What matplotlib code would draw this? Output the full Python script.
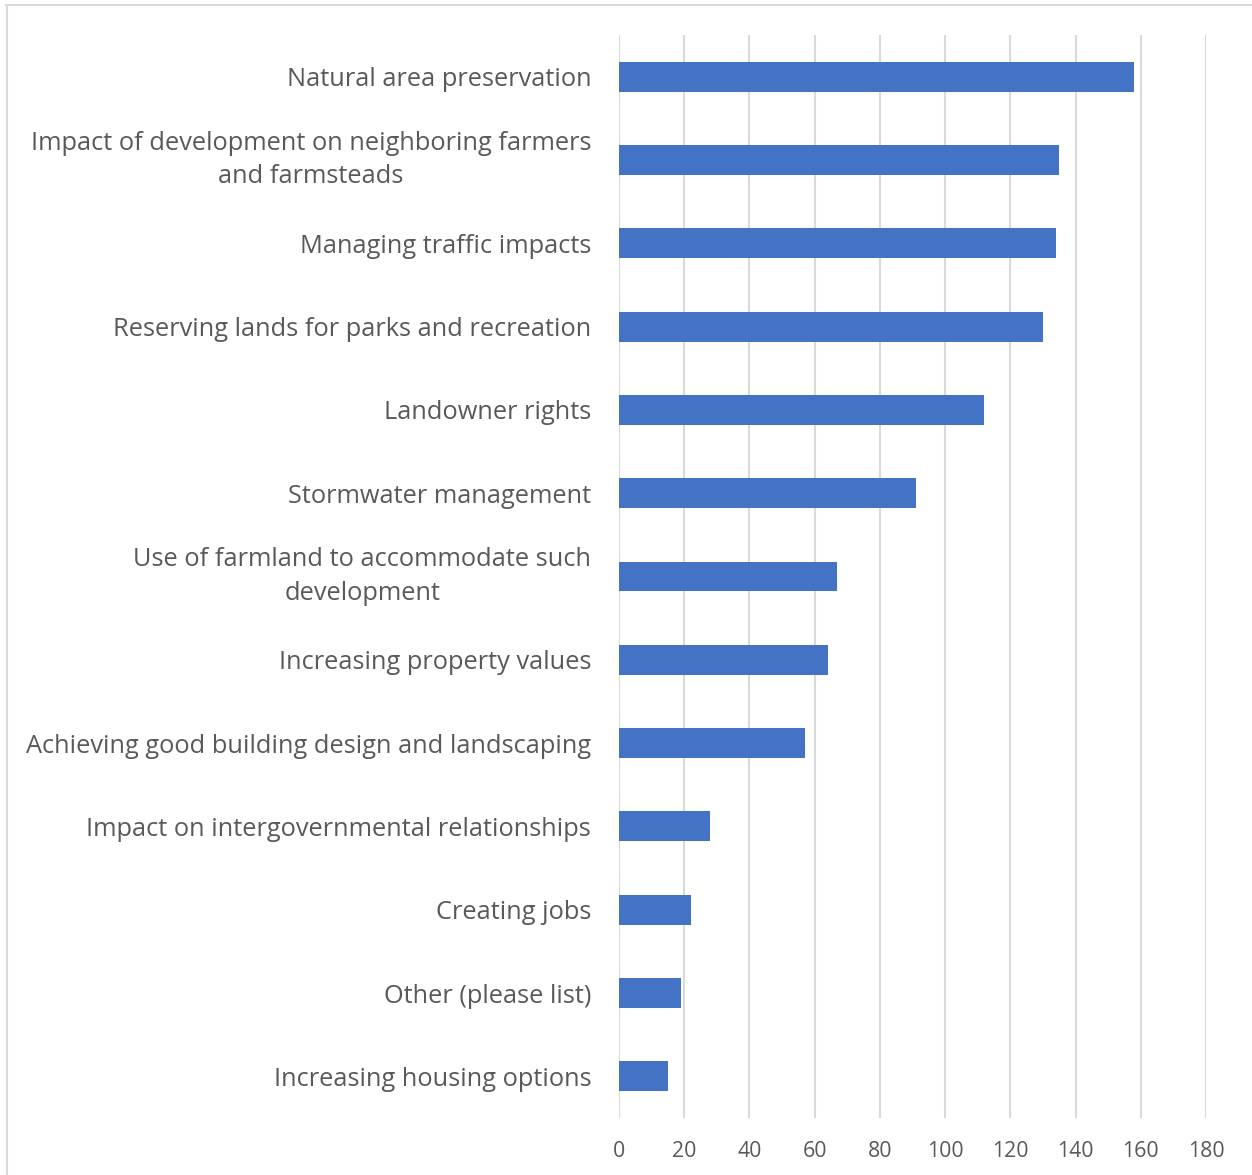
import matplotlib.pyplot as plt
from matplotlib.lines import Line2D

# categories top to bottom
categories = [
    "Natural area preservation",
    "Impact of development on neighboring farmers\nand farmsteads",
    "Managing traffic impacts",
    "Reserving lands for parks and recreation",
    "Landowner rights",
    "Stormwater management",
    "Use of farmland to accommodate such\ndevelopment",
    "Increasing property values",
    "Achieving good building design and landscaping",
    "Impact on intergovernmental relationships",
    "Creating jobs",
    "Other (please list)",
    "Increasing housing options",
]
counts = [158, 135, 134, 130, 112, 91, 67, 64, 57, 28, 22, 19, 15]
xticks = [0, 20, 40, 60, 80, 100, 120, 140, 160, 180]

text_col = "#595959"
grid_col = "#d9d9d9"
bar_col = "#4472C4"

plt.rcParams['font.family'] = ['Open Sans', 'DejaVu Sans']

fig = plt.figure(figsize=(12.52, 11.75), dpi=100)
ax = fig.add_axes([619/1252, 1 - 1118/1175, (1206-619)/1252, (1118-35)/1175])

ypos = list(range(len(categories)))
ax.barh(ypos, counts, height=0.36, color=bar_col, zorder=3)
ax.set_ylim(len(categories) - 0.5, -0.5)
ax.set_xlim(0, 180)

ax.set_yticks(ypos)
ax.set_yticklabels(categories, fontsize=18.3, color=text_col,
                   multialignment='center', linespacing=1.45)
# wrapped labels: center the whole block on the bar
for lab in ax.get_yticklabels():
    if "\n" in lab.get_text():
        lab.set_verticalalignment('center')
ax.set_xticks(xticks)
ax.set_xticklabels([str(t) for t in xticks], fontsize=15.3, color=text_col)
ax.tick_params(axis='both', length=0)
ax.tick_params(axis='y', pad=20)
ax.tick_params(axis='x', pad=16.5)

ax.grid(axis='x', color=grid_col, linewidth=1.5, zorder=0)
for s in ax.spines.values():
    s.set_visible(False)

# chart area border (top and left visible)
fig.add_artist(Line2D([6/1252, 1], [1 - 5/1175, 1 - 5/1175], color=grid_col, linewidth=1.5, transform=fig.transFigure))
fig.add_artist(Line2D([6.5/1252, 6.5/1252], [0, 1 - 5/1175], color=grid_col, linewidth=1.5, transform=fig.transFigure))

fig.savefig("out.png", dpi=100)
